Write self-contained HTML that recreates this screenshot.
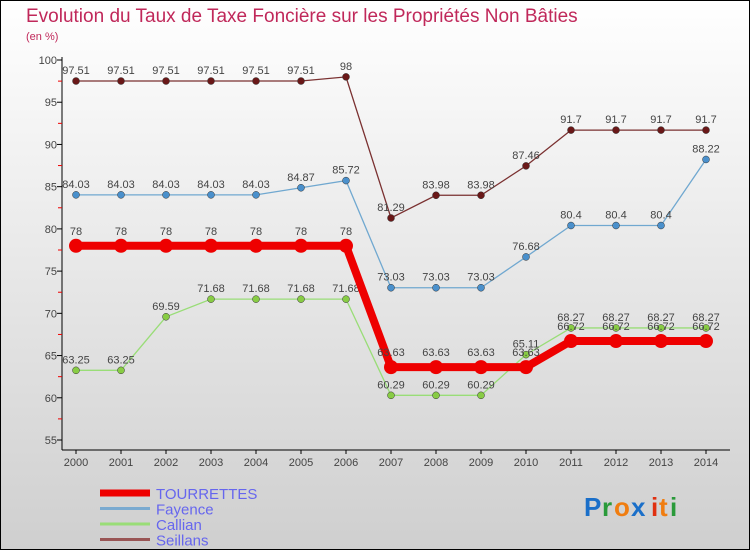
<!DOCTYPE html>
<html><head><meta charset="utf-8"><style>
html,body{margin:0;padding:0}
body{width:750px;height:550px;overflow:hidden;font-family:"Liberation Sans",sans-serif}
</style></head><body>
<svg id="chart" width="750" height="550" xmlns="http://www.w3.org/2000/svg">
<defs><linearGradient id="bg" x1="0" y1="0" x2="0" y2="1"><stop offset="0" stop-color="#ffffff"/><stop offset="1" stop-color="#cfcfcf"/></linearGradient></defs>
<rect x="0.5" y="0.5" width="749" height="549" fill="url(#bg)" stroke="#000"/>
<text x="26" y="22" font-size="19" fill="#c0285a">Evolution du Taux de Taxe Foncière sur les Propriétés Non Bâties</text>
<text x="26" y="40" font-size="11" fill="#c0285a">(en %)</text>
<g id="axes"></g>
<g id="series"></g>
<g id="legend"></g>
<g font-size="26" font-weight="bold" font-family="'Liberation Sans',sans-serif">
<text x="584" y="516" fill="#1a6fc9">P</text><text x="602" y="516" fill="#2a9a3a">r</text><text x="614" y="516" fill="#f07d10">o</text><text x="631" y="516" fill="#1a6fc9">x</text><text x="651" y="516" fill="#e03010">i</text><text x="659" y="516" fill="#f07d10">t</text><text x="670" y="516" fill="#2a9a3a">i</text>
</g>
</svg>
<script>
const years=[2000,2001,2002,2003,2004,2005,2006,2007,2008,2009,2010,2011,2012,2013,2014];
const yTicks=[55,60,65,70,75,80,85,90,95,100];
const tourrettes=[78,78,78,78,78,78,78,63.63,63.63,63.63,63.63,66.72,66.72,66.72,66.72];
const fayence=[84.03,84.03,84.03,84.03,84.03,84.87,85.72,73.03,73.03,73.03,76.68,80.4,80.4,80.4,88.22];
const callian=[63.25,63.25,69.59,71.68,71.68,71.68,71.68,60.29,60.29,60.29,65.11,68.27,68.27,68.27,68.27];
const seillans=[97.51,97.51,97.51,97.51,97.51,97.51,98,81.29,83.98,83.98,87.46,91.7,91.7,91.7,91.7];
const NS='http://www.w3.org/2000/svg';
const xs=i=>76+i*45;
const ys=v=>440-(v-55)*(380/45);
function mk(p,tag,at){const e=document.createElementNS(NS,tag);for(const k in at)e.setAttribute(k,at[k]);p.appendChild(e);return e;}
const ax=document.getElementById('axes');
let a=mk(ax,'line',{x1:62,y1:57,x2:62,y2:450,stroke:'#000'});


a=mk(ax,'line',{x1:62,y1:450,x2:730,y2:450,stroke:'#000'});


yTicks.forEach(v=>{
 mk(ax,'line',{x1:57,y1:ys(v),x2:62,y2:ys(v),stroke:'#000'});
 if(v<100)mk(ax,'line',{x1:58,y1:ys(v+2.5),x2:62,y2:ys(v+2.5),stroke:'#e00'});
 const t=mk(ax,'text',{x:57,y:ys(v)+4,'font-size':11,fill:'#444','text-anchor':'end'});
 t.textContent=v;
 
 
});
years.forEach((y,i)=>{
 mk(ax,'line',{x1:xs(i),y1:450,x2:xs(i),y2:454,stroke:'#000'});
 const t=mk(ax,'text',{x:xs(i),y:466,'font-size':11,fill:'#444','text-anchor':'middle'});
 t.textContent=y;
 
 
});
const sg=document.getElementById('series');
function draw(name,vals,color,dot,w,r,off){
 const g=mk(sg,'g',{});
 
 
 const l=mk(g,'polyline',{points:vals.map((v,i)=>xs(i)+','+ys(v)).join(' '),fill:'none',stroke:color,'stroke-width':w});
 
 
 vals.forEach((v,i)=>{
  const c=mk(g,'circle',{cx:xs(i),cy:ys(v),r:r,fill:dot,stroke:r>5?'none':'#333','stroke-width':0.5});
  
  
  const t=mk(g,'text',{x:xs(i),y:ys(v)-off,'font-size':11,fill:'#444','text-anchor':'middle'});
  t.textContent=String(v);
  
  
 });
}
draw('callian',callian,'#99dd77','#88cc44',1.3,3.5,7);
draw('fayence',fayence,'#70a8d0','#4a90cc',1.3,3.5,7);
draw('seillans',seillans,'#7a3030','#6a1818',1.3,3.5,7);
draw('tourrettes',tourrettes,'#ee0000','#ee0000',8,7,11);
const lg=document.getElementById('legend');
const names=['TOURRETTES','Fayence','Callian','Seillans'];
const cols=['#ee0000','#7aaad0','#99dd77','#995555'];
const ws=[7,3,3,3];
names.forEach((n,i)=>{
 const y=493+i*15.5;
 const l=mk(lg,'line',{x1:100,y1:y,x2:150,y2:y,stroke:cols[i],'stroke-width':ws[i]});
 
 
 const t=mk(lg,'text',{x:156,y:y+6,'font-size':15,fill:'#6666ee'});
 t.textContent=n;
 
 
});
</script>
</body></html>
